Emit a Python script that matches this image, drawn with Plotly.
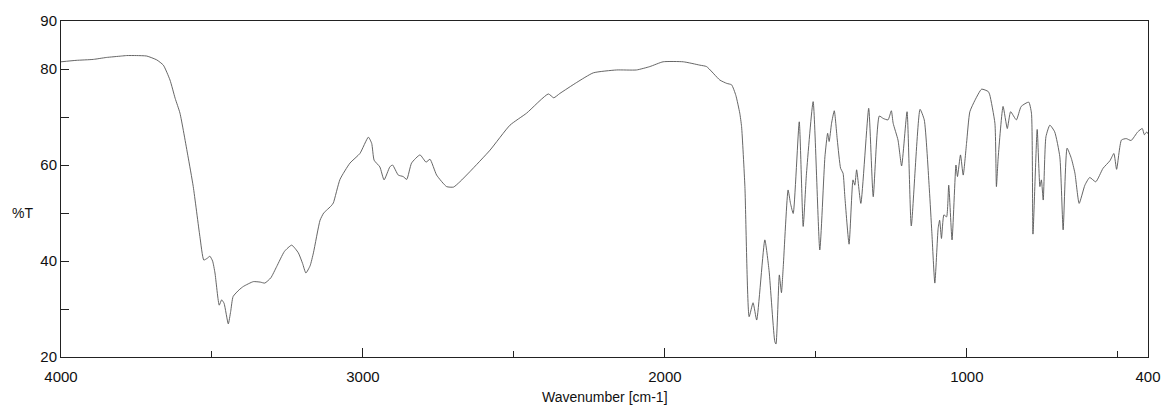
import plotly.graph_objects as go

wavenumber = [4000, 3950, 3893, 3850, 3800, 3783, 3750, 3716, 3683, 3661, 3639, 3622, 3606, 3580, 3562,
              3540, 3527, 3515, 3507, 3498, 3490, 3476, 3468, 3460, 3446, 3438, 3430, 3410, 3396, 3363,
              3340, 3325, 3305, 3286, 3260, 3236, 3214, 3200, 3189, 3175, 3164, 3142, 3130, 3120, 3105,
              3098, 3076, 3043, 3010, 2982, 2971, 2963, 2944, 2930, 2911, 2902, 2883, 2867, 2855, 2839,
              2811, 2791, 2778, 2756, 2723, 2700, 2679, 2646, 2579, 2513, 2458, 2386, 2368, 2348, 2292,
              2237, 2160, 2094, 2050, 2006, 1939, 1884, 1862, 1818, 1795, 1779, 1765, 1752, 1746, 1735,
              1721, 1708, 1696, 1669, 1655, 1636, 1632, 1621, 1614, 1608, 1592, 1584, 1575, 1555, 1542,
              1531, 1509, 1487, 1470, 1461, 1456, 1448, 1439, 1429, 1418, 1410, 1404, 1390, 1377, 1371,
              1365, 1351, 1325, 1310, 1290, 1277, 1261, 1250, 1244, 1228, 1216, 1198, 1184, 1155, 1141,
              1124, 1116, 1106, 1095, 1090, 1084, 1076, 1067, 1060, 1049, 1036, 1031, 1021, 1012, 1001,
              990, 973, 951, 929, 924, 907, 902, 896, 880, 866, 855, 836, 820, 795, 786,
              781, 767, 758, 753, 747, 738, 725, 709, 692, 681, 668, 654, 642, 628, 609,
              593, 573, 549, 526, 513, 504, 488, 472, 456, 434, 419, 412, 404, 400]
transmittance = [81.5, 81.8, 82.0, 82.4, 82.7, 82.8, 82.8, 82.7, 81.9, 80.8, 77.7, 73.9, 70.8, 62.0, 55.5,
                 45.1, 40.2, 40.6, 41.0, 40.0, 37.5, 30.8, 31.9, 31.2, 26.9, 29.5, 32.6, 34.0, 34.7, 35.7,
                 35.6, 35.4, 36.5, 38.8, 42.0, 43.3, 41.7, 39.5, 37.5, 39.0, 41.7, 48.5, 50.0, 50.6, 51.5,
                 52.1, 57.0, 60.4, 62.4, 65.8, 64.5, 61.0, 59.6, 56.9, 59.6, 60.0, 57.9, 57.6, 57.0, 60.4,
                 62.1, 60.6, 61.2, 57.9, 55.5, 55.4, 56.5, 58.6, 63.1, 68.3, 70.8, 74.8, 74.0, 74.9, 77.2,
                 79.2, 79.8, 79.8, 80.5, 81.5, 81.5, 80.8, 80.5, 77.7, 77.0, 76.7, 74.5, 70.8, 68.0, 55.5,
                 28.4, 31.3, 27.7, 44.4, 38.0, 23.2, 22.7, 37.1, 33.4, 38.8, 54.8, 52.0, 49.9, 69.0, 47.2,
                 58.3, 73.2, 42.3, 61.7, 66.6, 64.9, 68.7, 71.3, 65.2, 59.3, 58.3, 53.4, 43.5, 56.9, 55.8,
                 59.0, 52.0, 71.8, 53.4, 70.2, 69.7, 69.4, 71.3, 68.7, 65.2, 59.8, 71.1, 47.3, 71.6, 69.4,
                 54.8, 46.1, 35.4, 46.8, 48.5, 44.7, 49.6, 49.2, 55.8, 44.4, 60.0, 57.6, 62.1, 57.9, 64.5,
                 71.1, 73.5, 75.8, 75.3, 74.6, 68.7, 55.5, 61.7, 72.2, 67.6, 71.1, 69.4, 72.2, 73.1, 70.8,
                 45.6, 67.4, 55.5, 56.9, 52.7, 65.9, 68.3, 66.9, 61.7, 46.5, 63.5, 61.4, 58.3, 52.0, 55.8,
                 57.4, 56.5, 59.3, 60.9, 62.4, 59.1, 65.2, 65.5, 65.1, 66.9, 67.6, 66.3, 66.9, 66.5]

x_tick_vals = [4000, 3000, 2000, 1000, 400]
x_tick_text = ["4000", "3000", "2000", "1000", "400"]
y_tick_vals = [20, 40, 60, 80, 90]
y_tick_text = ["20", "40", "60", "80", "90"]

fig = go.Figure()
fig.add_trace(go.Scatter(x=wavenumber, y=transmittance, mode="lines",
                         line=dict(color="#555555", width=0.9, shape="spline", smoothing=0.5),
                         showlegend=False))

font = dict(family="Liberation Sans, Arial, sans-serif", size=15, color="#111111")

W, H = 1163, 405
ML, MR, MT, MB = 61, 15, 21, 48
plot_w = W - ML - MR
plot_h = H - MT - MB

fig.update_layout(
    width=W, height=H,
    margin=dict(l=ML, r=MR, t=MT, b=MB, autoexpand=False),
    paper_bgcolor="white", plot_bgcolor="white",
    font=font,
    xaxis=dict(range=[4000, 400], tickvals=x_tick_vals, ticktext=x_tick_text,
               ticks="inside", ticklen=9, tickcolor="#222", tickwidth=1,
               minor=dict(dtick=500, tick0=0, ticks="inside", ticklen=6, tickcolor="#222"),
               showline=True, linecolor="#222", linewidth=1, mirror=True, automargin=False,
               showgrid=False, zeroline=False, tickfont=font, ticklabelstandoff=6),
    yaxis=dict(range=[20, 90], tickvals=y_tick_vals, ticktext=y_tick_text,
               ticks="inside", ticklen=8, tickcolor="#222", tickwidth=1,
               minor=dict(dtick=10, tick0=0, ticks="inside", ticklen=8, tickcolor="#222"),
               showline=True, linecolor="#222", linewidth=1, mirror=True, automargin=False,
               showgrid=False, zeroline=False, tickfont=font),
    annotations=[
        dict(text="%T", x=(22 - ML) / plot_w, y=(H - MB - 213) / plot_h,
             xref="paper", yref="paper", showarrow=False, xanchor="center", yanchor="middle",
             font=dict(family="Liberation Sans, Arial, sans-serif", size=14, color="#111")),
        dict(text="Wavenumber [cm-1]", x=(605 - ML) / plot_w, y=(H - MB - 397) / plot_h,
             xref="paper", yref="paper", xanchor="center", yanchor="middle", showarrow=False,
             font=dict(family="Liberation Sans, Arial, sans-serif", size=14, color="#111")),
    ],
)

# Remove the default page margin so the figure sits at the window's top-left corner.
fig.write_html("out.html", config={"displayModeBar": False},
               post_script="document.body.style.margin='0';document.body.style.overflow='hidden';")
